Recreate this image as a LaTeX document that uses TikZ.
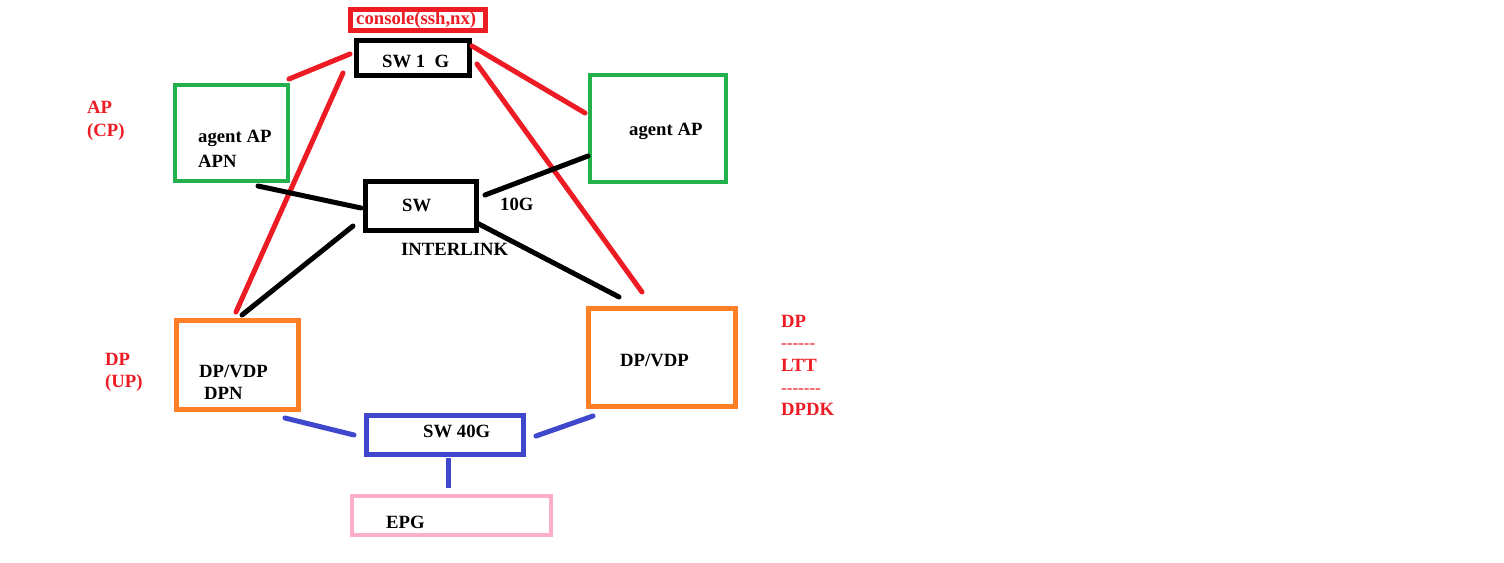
\documentclass[tikz,border=0pt]{standalone}
\usepackage{fontspec}
\setmainfont{Liberation Serif}
\definecolor{pred}{HTML}{ED1C24}
\definecolor{pgreen}{HTML}{22B14C}
\definecolor{porange}{HTML}{FF7F27}
\definecolor{pblue}{HTML}{3F48CC}
\definecolor{ppink}{HTML}{FFAEC9}
\newcommand{\hyph}{\hbox{-}}
\begin{document}
\begin{tikzpicture}[x=1pt,y=-1pt,
  box/.style={draw,line width=5pt,inner sep=0pt},
  lbl/.style={anchor=base west,inner sep=0pt,font=\fontsize{18.7}{22}\selectfont\bfseries},
  dashlbl/.style={anchor=base west,inner sep=0pt,font=\fontsize{17}{20}\selectfont,text=pred},
  wire/.style={line width=5pt,line cap=round}]
\useasboundingbox[fill=white] (0,0) rectangle (1504,562);
% boxes
\node[box,draw=pred,minimum width=135pt,minimum height=21pt] (console) at (417.5,20) {};
\node[box,draw=black,minimum width=113pt,minimum height=35pt] (sw1g) at (413,58) {};
\node[box,draw=pgreen,line width=4.5pt,minimum width=113pt,minimum height=96pt] (apL) at (231.5,133) {};
\node[box,draw=pgreen,line width=4.5pt,minimum width=136pt,minimum height=107pt] (apR) at (658,128.5) {};
\node[box,draw=black,minimum width=111pt,minimum height=49pt] (sw) at (421,206) {};
\node[box,draw=porange,minimum width=122pt,minimum height=89pt] (dpL) at (237.5,365) {};
\node[box,draw=porange,minimum width=147pt,minimum height=98pt] (dpR) at (662,357.5) {};
\node[box,draw=pblue,minimum width=157pt,minimum height=39pt] (sw40) at (445,435) {};
\node[box,draw=ppink,line width=4.5pt,minimum width=199pt,minimum height=39pt] (epg) at (451.5,515.5) {};
% texts
\node[lbl,text=pred] (tconsole) at (356,24) {console(ssh,nx)};
\node[lbl] (tsw1g) at (382,67) {SW 1\ \ G};
\node[lbl] (tapL1) at (198,142) {agent AP};
\node[lbl] (tapL2) at (198,167) {APN};
\node[lbl] (tapR) at (629,135) {agent AP};
\node[lbl] (tsw) at (402,211) {SW};
\node[lbl] (t10g) at (500,210) {10G};
\node[lbl] (tinter) at (401,255) {INTERLINK};
\node[lbl] (tdpL1) at (199,377) {DP/VDP};
\node[lbl] (tdpL2) at (204,399) {DPN};
\node[lbl] (tdpR) at (620,366) {DP/VDP};
\node[lbl] (tsw40) at (423,437) {SW 40G};
\node[lbl] (tepg) at (386,528) {EPG};
\node[lbl,text=pred] (tAP) at (87,113) {AP};
\node[lbl,text=pred] (tCP) at (87,136) {(CP)};
\node[lbl,text=pred] (tDP) at (105,365) {DP};
\node[lbl,text=pred] (tUP) at (105,387) {(UP)};
\node[lbl,text=pred] (tDP2) at (781,327) {DP};
\node[dashlbl] (td1) at (781,348) {\hyph\hyph\hyph\hyph\hyph\hyph};
\node[lbl,text=pred] (tLTT) at (781,371) {LTT};
\node[dashlbl] (td2) at (781,393) {\hyph\hyph\hyph\hyph\hyph\hyph\hyph};
\node[lbl,text=pred] (tDPDK) at (781,415) {DPDK};
% connector end points
\coordinate (r1a) at (289,79);  \coordinate (r1b) at (350,54);
\coordinate (r2a) at (343,73);  \coordinate (r2b) at (236,312);
\coordinate (r3a) at (472,46);  \coordinate (r3b) at (585,113);
\coordinate (r4a) at (477,64);  \coordinate (r4b) at (642,292);
\coordinate (k1a) at (258,186); \coordinate (k1b) at (361,208);
\coordinate (k2a) at (485,195); \coordinate (k2b) at (588,156);
\coordinate (k3a) at (353,226); \coordinate (k3b) at (242,315);
\coordinate (k4a) at (477,223); \coordinate (k4b) at (619,297);
\coordinate (b1a) at (285,418); \coordinate (b1b) at (354,435);
\coordinate (b2a) at (536,436); \coordinate (b2b) at (593,416);
\coordinate (b3a) at (448,458); \coordinate (b3b) at (448,488);
% connectors
\draw[wire,pred] (r1a) -- (r1b);
\draw[wire,pred] (r2a) -- (r2b);
\draw[wire,pred] (r3a) -- (r3b);
\draw[wire,pred] (r4a) -- (r4b);
\draw[wire,black] (k1a) -- (k1b);
\draw[wire,black] (k2a) -- (k2b);
\draw[wire,black] (k3a) -- (k3b);
\draw[wire,black] (k4a) -- (k4b);
\draw[wire,pblue] (b1a) -- (b1b);
\draw[wire,pblue] (b2a) -- (b2b);
\draw[wire,pblue,line cap=butt] (b3a) -- (b3b);
\end{tikzpicture}
\end{document}
